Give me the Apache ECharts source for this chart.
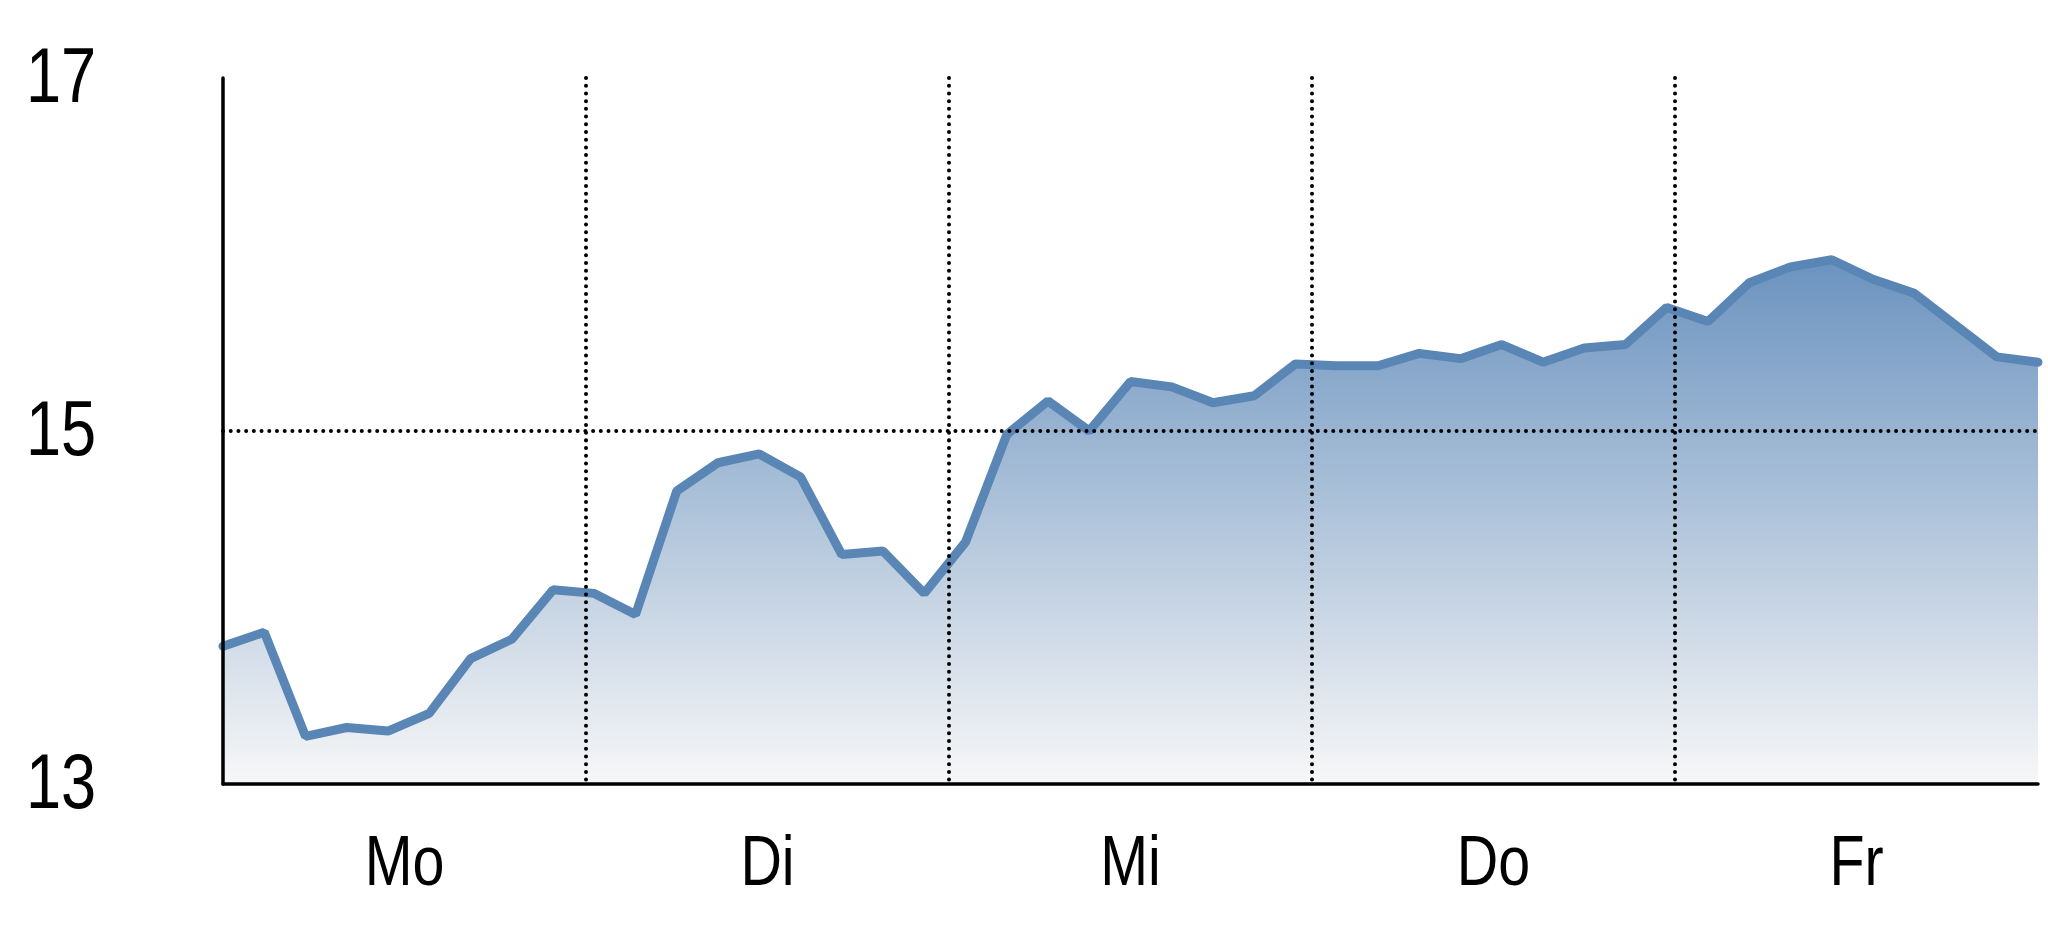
<!DOCTYPE html>
<html>
<head>
<meta charset="utf-8">
<script src="https://cdn.jsdelivr.net/npm/echarts@6/dist/echarts.min.js"></script>
<style>
  html, body { margin: 0; padding: 0; background: #ffffff; }
  #chart { width: 2048px; height: 937px; }
</style>
</head>
<body>
<div id="chart"></div>
<script>
// ---- data ----
const days = ['Mo', 'Di', 'Mi', 'Do', 'Fr'];
const values = [
  13.78, 13.86, 13.27, 13.32, 13.30, 13.40, 13.71, 13.82, 14.10,
  14.08, 13.96, 14.66, 14.82, 14.87, 14.74, 14.30, 14.32, 14.08,
  14.37, 14.98, 15.17, 15.00, 15.28, 15.25, 15.16, 15.20, 15.38,
  15.37, 15.37, 15.44, 15.41, 15.49, 15.39, 15.47, 15.49, 15.70,
  15.62, 15.84, 15.93, 15.97, 15.86, 15.78, 15.60, 15.42, 15.39
];
const yTicks = [13, 15, 17];

// ---- chart ----
const chart = echarts.init(document.getElementById('chart'), null, { renderer: 'canvas' });
const dotStyle = { width: 4, type: [0.01, 7.7], cap: 'round' };
const transparent = 'rgba(0,0,0,0)';

const option = {
  backgroundColor: '#ffffff',
  animation: false,
  grid: { left: 223, right: 10, top: 78, bottom: 153, containLabel: false },
  xAxis: [
    {
      type: 'category',
      data: days,
      boundaryGap: true,
      z: 5,
      axisLine: { show: true, lineStyle: { color: '#000', width: 3.5 } },
      axisTick: { show: false },
      axisLabel: { show: false },
      splitLine: {
        show: true,
        lineStyle: Object.assign({
          color: [transparent, '#000', '#000', '#000', '#000', transparent]
        }, dotStyle)
      }
    },
    {
      type: 'value',
      min: 0,
      max: values.length - 1,
      show: false
    }
  ],
  yAxis: {
    type: 'value',
    min: yTicks[0],
    max: yTicks[yTicks.length - 1],
    interval: yTicks[1] - yTicks[0],
    z: 5,
    axisLine: { show: true, lineStyle: { color: '#000', width: 3.5 } },
    axisTick: { show: false },
    axisLabel: { show: false },
    splitLine: {
      show: true,
      lineStyle: Object.assign({
        color: [transparent, '#000', transparent]
      }, dotStyle)
    }
  },
  series: [
    {
      type: 'line',
      xAxisIndex: 1,
      data: values.map((v, i) => [i, v]),
      symbol: 'none',
      z: 1,
      lineStyle: { color: '#5a86b6', width: 9, cap: 'round' },
      areaStyle: {
        opacity: 1,
        color: new echarts.graphic.LinearGradient(0, 0, 0, 1, [
          { offset: 0, color: '#6b93bf' },
          { offset: 1, color: '#f7f7f7' }
        ])
      }
    }
  ]
};
chart.setOption(option);

// Axis labels as narrow (horizontally condensed) text, positioned via the axes' own scales
const baseY = chart.convertToPixel({ yAxisIndex: 0 }, yTicks[0]);
const gridLeft = chart.convertToPixel({ xAxisIndex: 1 }, 0);
const graphics = [];
yTicks.forEach(function (t) {
  const py = chart.convertToPixel({ yAxisIndex: 0 }, t);
  graphics.push({
    type: 'text',
    x: gridLeft - 162,
    y: py + 3,
    scaleX: 0.82,
    silent: true,
    style: {
      text: String(t),
      fill: '#000',
      font: '77px "Liberation Sans", Arial, sans-serif',
      align: 'center',
      verticalAlign: 'middle'
    }
  });
});
days.forEach(function (d) {
  const px = chart.convertToPixel({ xAxisIndex: 0 }, d);
  graphics.push({
    type: 'text',
    x: px,
    y: baseY + 82,
    scaleX: 0.82,
    silent: true,
    style: {
      text: d,
      fill: '#000',
      font: '70px "Liberation Sans", Arial, sans-serif',
      align: 'center',
      verticalAlign: 'middle'
    }
  });
});
chart.setOption({ graphic: graphics });
</script>
</body>
</html>
